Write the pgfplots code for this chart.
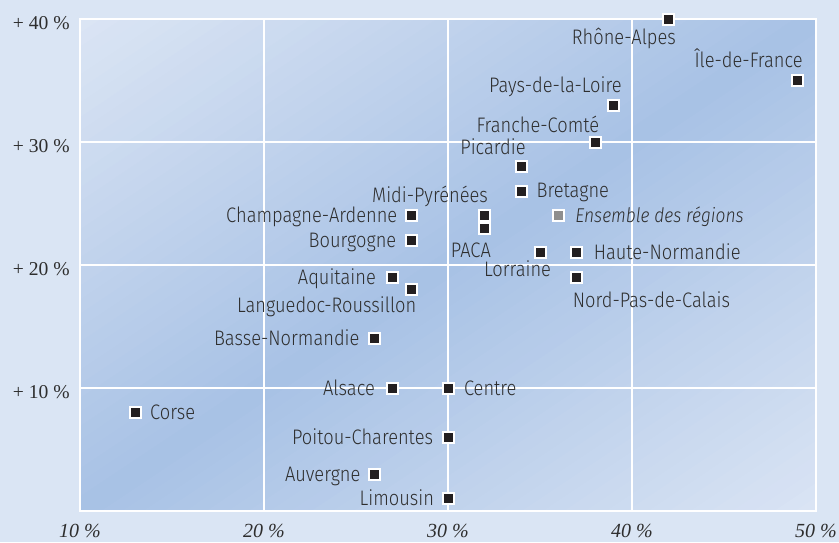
\documentclass[border=0pt]{standalone}
\usepackage{pgfplots}
\pgfplotsset{compat=1.18}
\usepackage{fontspec}
\newfontfamily\labfont{Fira Sans Light}[FakeStretch=0.87, ItalicFont={Fira Sans Light Italic}]
\newfontfamily\tickfont{Liberation Serif}
\definecolor{outerbg}{HTML}{DAE5F4}
\definecolor{shA}{HTML}{DBE5F4}
\definecolor{shB}{HTML}{A7C1E5}
\definecolor{shC}{HTML}{DAE4F4}
\definecolor{mk}{HTML}{231F20}
\definecolor{ensgray}{HTML}{8E8E8E}
\definecolor{labtext}{HTML}{2E2E2E}
\pgfplotsset{regmark/.style={only marks, mark=square*, mark size=2.75pt,
  mark options={fill=mk, draw=white, line width=1pt}}}
% \reg{x,y}{anchor}{dx}{dy}{label}
\newcommand\reg[5]{\addplot[regmark, nodes near coords={#5},
  every node near coord/.append style={anchor=#2, xshift=#3, yshift=#4, inner sep=0pt,
    font=\labfont\fontsize{10.5}{12}\selectfont, text=labtext}] coordinates {(#1)};}
\begin{document}
\begin{tikzpicture}
\fill[outerbg] (-40pt,-15.5pt) rectangle (379.5pt,255.5pt);
\begin{scope}[x=368pt, y=246pt]
\clip (0,0) rectangle (1,1);
\foreach \i in {0,...,69}{
  \pgfmathsetmacro\ta{\i/70}
  \pgfmathsetmacro\tb{(\i+1.4)/70}
  \pgfmathsetmacro\tm{(\i+0.5)/70}
  \pgfmathsetmacro\ca{1-2*\ta}
  \pgfmathsetmacro\cb{1-2*\tb}
  \pgfmathtruncatemacro\p{\tm<0.5 ? 200*\tm : 200*(1-\tm)}
  \ifdim \tm pt<0.5pt \colorlet{bc}{shB!\p!shA}\else\colorlet{bc}{shB!\p!shC}\fi
  \fill[bc] (-1,-1+\ca) -- (2,2+\ca) -- (2,2+\cb) -- (-1,-1+\cb) -- cycle;
}
\end{scope}
\begin{axis}[
  scale only axis,
  width=368pt, height=246pt,
  xmin=10, xmax=50, ymin=0, ymax=40,
  clip=false,
  xtick={10,20,30,40,50},
  xticklabels={10 \%,20 \%,30 \%,40 \%,50 \%},
  ytick={10,20,30,40},
  yticklabels={+ 10 \%,+ 20 \%,+ 30 \%,+ 40 \%},
  major tick length=0pt,
  tick style={draw=none},
  grid=major,
  grid style={white, line width=1pt},
  axis line style={white, line width=1pt},
  xticklabel style={font=\tickfont\itshape\fontsize{10}{11}\selectfont, text=labtext, inner sep=0pt, anchor=north, yshift=-6.3pt},
  yticklabel style={font=\tickfont\fontsize{9.8}{12}\selectfont, text=labtext, inner sep=0pt, anchor=east, xshift=-5pt, yshift=-2.2pt},
]
\reg{42,40}{base east}{4pt}{-12.5pt}{Rhône-Alpes}
\reg{49,35}{base east}{3pt}{6.5pt}{Île-de-France}
\reg{39,33}{base east}{4.5pt}{6.5pt}{Pays-de-la-Loire}
\reg{38,30}{base east}{2.5pt}{5pt}{Franche-Comté}
\reg{34,28}{base east}{2.5pt}{6pt}{Picardie}
\reg{34,26}{base west}{7pt}{-3.3pt}{Bretagne}
\reg{32,24}{base east}{2pt}{6.5pt}{Midi-Pyrénées}
\reg{28,24}{base east}{-6.5pt}{-3.5pt}{Champagne-Ardenne}
\reg{32,23}{base east}{3.5pt}{-14.5pt}{PACA}
\reg{28,22}{base east}{-7pt}{-3.5pt}{Bourgogne}
\reg{35,21}{base east}{6pt}{-12pt}{Lorraine}
\reg{37,21}{base west}{8pt}{-3.5pt}{Haute-Normandie}
\reg{37,19}{base west}{-2.5pt}{-15pt}{Nord-Pas-de-Calais}
\reg{27,19}{base east}{-8pt}{-3.5pt}{Aquitaine}
\reg{28,18}{base east}{3pt}{-11.5pt}{Languedoc-Roussillon}
\reg{26,14}{base east}{-7pt}{-3.5pt}{Basse-Normandie}
\reg{27,10}{base east}{-8.5pt}{-3.5pt}{Alsace}
\reg{30,10}{base west}{7.5pt}{-3.5pt}{Centre}
\reg{13,8}{base west}{7pt}{-3.5pt}{Corse}
\reg{30,6}{base east}{-7pt}{-3.5pt}{Poitou-Charentes}
\reg{26,3}{base east}{-6.5pt}{-3.5pt}{Auvergne}
\reg{30,1}{base east}{-6.5pt}{-3.5pt}{Limousin}
\addplot[only marks, mark=square*, mark size=2.75pt,
  mark options={fill=ensgray, draw=white, line width=1pt},
  nodes near coords={\itshape Ensemble des régions},
  every node near coord/.append style={anchor=base west, xshift=8pt, yshift=-3.5pt, inner sep=0pt,
    font=\labfont\fontsize{10}{12}\selectfont, text=labtext}]
  coordinates {(36,24)};
\end{axis}
\pgfresetboundingbox
\path (-40pt,-15.5pt) rectangle (379.5pt,255.5pt);
\end{tikzpicture}
\end{document}
